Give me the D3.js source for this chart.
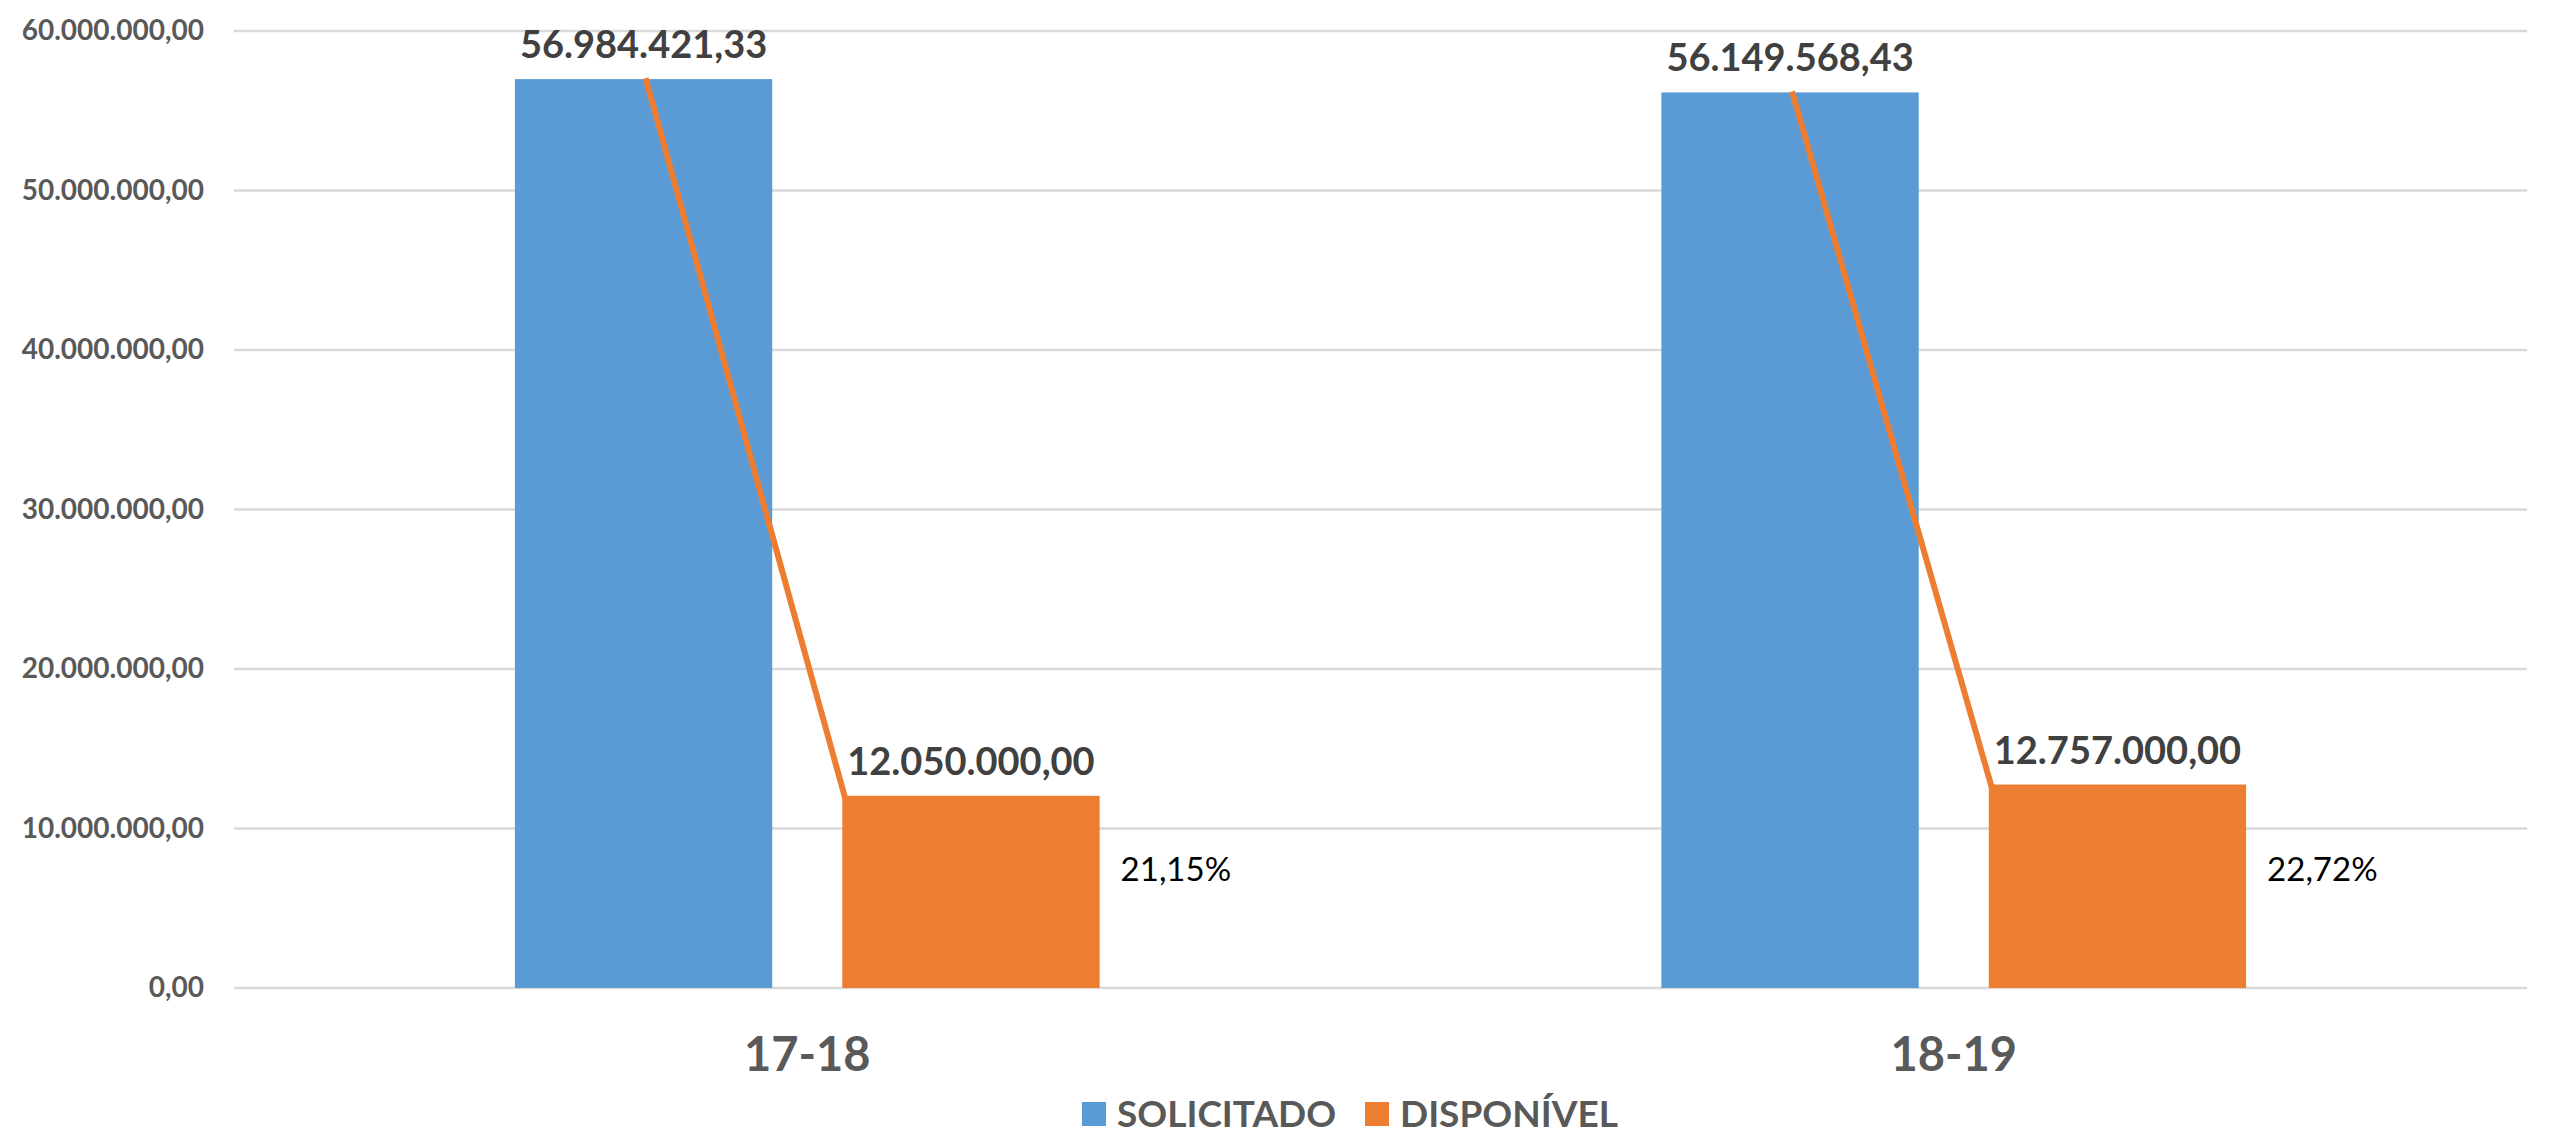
<!DOCTYPE html>
<html>
<head>
<meta charset="utf-8">
<script src="https://cdnjs.cloudflare.com/ajax/libs/d3/7.8.5/d3.min.js"></script>
<style>
	body { margin: 0; background: #fff; }
	text { font-family: Lato, "Open Sans", sans-serif; }
</style>
</head>
<body>
<div id="chart"></div>
<script>
var width = 2560;
var height = 1138;

// data
var categories = ["17-18", "18-19"];
var seriesNames = ["SOLICITADO", "DISPONÍVEL"];
var solicitado = [56984421.33, 56149568.43];
var disponivel = [12050000.00, 12757000.00];
var yTicks = [0, 10000000, 20000000, 30000000, 40000000, 50000000, 60000000];

var colors = ["#5B9BD5", "#ED7D31"];

var ptBR = d3.formatLocale({ decimal: ",", thousands: ".", grouping: [3], currency: ["R$", ""] });
var fmtNum = ptBR.format(",.2f");
var fmtPct = ptBR.format(".2%");

window.onload = start;

function start() {
	var margin = { left: 234, right: 33, top: 31, bottom: 150 };

	var chart = d3.select("#chart")
		.append("svg")
		.attr("width", width)
		.attr("height", height);

	var xScale = d3.scaleBand()
		.domain(categories)
		.range([margin.left, width - margin.right])
		.paddingInner(0.49)
		.paddingOuter(0.245);

	var xInner = d3.scaleBand()
		.domain(seriesNames)
		.range([0, xScale.bandwidth()])
		.paddingInner(0.214);

	var yScale = d3.scaleLinear()
		.domain([0, 60000000])
		.range([height - margin.bottom, margin.top]);

	// gridlines
	chart.append("g")
		.selectAll("line")
		.data(yTicks)
		.enter()
		.append("line")
		.attr("x1", margin.left)
		.attr("x2", width - margin.right)
		.attr("y1", d => yScale(d))
		.attr("y2", d => yScale(d))
		.attr("stroke", "#D9D9D9")
		.attr("stroke-width", 2.5);

	// y axis labels
	var yAxis = d3.axisLeft(yScale)
		.tickValues(yTicks)
		.tickFormat(fmtNum)
		.tickSize(0)
		.tickPadding(30);

	var gy = chart.append("g")
		.attr("transform", "translate(" + margin.left + ",0)")
		.call(yAxis);
	gy.select(".domain").remove();
	gy.selectAll("text")
		.attr("fill", "#595959")
		.style("font-size", "28px")
		.style("font-weight", "bold")
		.style("font-family", "Lato, sans-serif");

	// x axis labels
	var xAxis = d3.axisBottom(xScale).tickSize(0).tickPadding(50);
	var gx = chart.append("g")
		.attr("transform", "translate(0," + yScale(0) + ")")
		.call(xAxis);
	gx.select(".domain").remove();
	gx.selectAll("text")
		.attr("fill", "#595959")
		.style("font-size", "47px")
		.style("font-weight", "bold")
		.style("font-family", "Lato, sans-serif");

	var rows = categories.map(function(c, i) {
		return { cat: c, values: [solicitado[i], disponivel[i]] };
	});

	var groups = chart.selectAll(".grp")
		.data(rows)
		.enter()
		.append("g")
		.attr("class", "grp")
		.attr("transform", d => "translate(" + xScale(d.cat) + ",0)");

	var bars = groups.selectAll("rect")
		.data(d => d.values.map((v, j) => ({ name: seriesNames[j], value: v, j: j })))
		.enter();

	bars.append("rect")
		.attr("x", d => xInner(d.name))
		.attr("y", d => yScale(d.value))
		.attr("width", xInner.bandwidth())
		.attr("height", d => yScale(0) - yScale(d.value))
		.attr("fill", d => colors[d.j]);

	// value labels
	bars.append("text")
		.attr("x", d => xInner(d.name) + xInner.bandwidth() / 2)
		.attr("y", d => yScale(d.value) - 21)
		.attr("text-anchor", "middle")
		.attr("fill", "#404040")
		.style("font-size", "38px")
		.style("font-weight", "bold")
		.text(d => fmtNum(d.value));

	// orange line from requested top to available bar
	groups.append("line")
		.attr("x1", xInner(seriesNames[0]) + xInner.bandwidth() / 2 + 2)
		.attr("y1", (d, i) => yScale(solicitado[i]) - 1)
		.attr("x2", xInner(seriesNames[1]) + 5)
		.attr("y2", (d, i) => yScale(disponivel[i]) + 10)
		.attr("stroke", "#ED7D31")
		.attr("stroke-width", 6);

	// percentage labels
	groups.append("text")
		.attr("x", xInner(seriesNames[1]) + xInner.bandwidth() + 21)
		.attr("y", yScale(0) - 115)
		.attr("dominant-baseline", "middle")
		.attr("fill", "#000")
		.style("font-size", "33px")
		.text((d, i) => fmtPct(disponivel[i] / solicitado[i]));

	// legend
	var legend = chart.append("g").attr("transform", "translate(1082,1102)");
	var legX = [0, 283];
	var items = legend.selectAll("g")
		.data(seriesNames)
		.enter()
		.append("g")
		.attr("transform", (d, i) => "translate(" + legX[i] + ",0)");
	items.append("rect")
		.attr("width", 24)
		.attr("height", 24)
		.attr("fill", (d, i) => colors[i]);
	items.append("text")
		.attr("x", 35)
		.attr("y", 25)
		.attr("fill", "#595959")
		.style("font-size", "37px")
		.style("font-weight", "bold")
		.text(d => d);
}
</script>
</body>
</html>
